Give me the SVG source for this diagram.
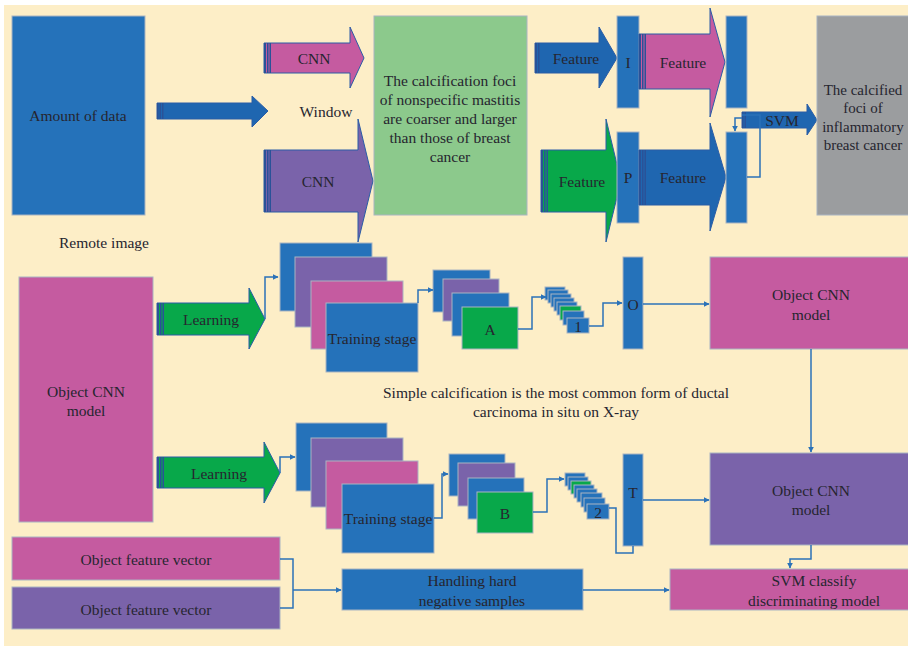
<svg xmlns="http://www.w3.org/2000/svg" width="908" height="648" viewBox="0 0 908 648">
<defs>
<style>
text{font-family:"Liberation Serif","DejaVu Serif",serif;fill:#26252f;font-size:15.5px;text-anchor:middle;dominant-baseline:central}
.box{stroke:#aab4c2;stroke-width:1}
.blue{fill:#2572ba}
.pink{fill:#c55ba0}
.purple{fill:#7a63aa}
.green{fill:#08a84a}
.lgreen{fill:#8cc98c}
.gray{fill:#9b9d9f}
.arr{stroke:#2b5da6;stroke-width:1}
.ablue{fill:#1f66b0}
.stripe{fill:#2a5298}
.con{fill:none;stroke:#2b72b8;stroke-width:1.5}
</style>
<marker id="ah" viewBox="0 0 10 10" refX="9" refY="5" markerWidth="6" markerHeight="6" orient="auto" markerUnits="userSpaceOnUse">
<path d="M0,0 L10,5 L0,10 Z" fill="#2b72b8"/>
</marker>
</defs>
<rect x="0" y="0" width="908" height="648" fill="#ffffff"/>
<rect x="4" y="5" width="904" height="641" fill="#fdeec7"/>

<g id="amount-of-data">
<rect class="box blue" x="12" y="16" width="133" height="199"/>
<text x="78" y="115">Amount of data</text>
</g>
<g id="remote-image"><text x="104" y="242">Remote image</text></g>

<g id="arrow-main">
<path class="arr ablue" d="M157,103 H252 V96 L268,111 L252,127 V119 H157 Z"/>
<rect class="stripe" x="157" y="103" width="1.5" height="16"/><rect class="stripe" x="159.5" y="103" width="1.5" height="16"/><rect class="stripe" x="162" y="103" width="1.5" height="16"/>
</g>

<g id="cnn-top">
<path class="arr pink" d="M264,43 H350 V27 L364,58 L350,88 V73 H264 Z"/>
<rect class="stripe" x="264" y="43" width="2" height="30"/><rect class="stripe" x="267" y="43" width="1.5" height="30"/><rect class="stripe" x="269.5" y="43" width="1.5" height="30"/>
<text x="314" y="58">CNN</text>
</g>
<g id="window"><text x="326" y="111">Window</text></g>
<g id="cnn-bottom">
<path class="arr purple" d="M264,150 H358 V119 L373,181 L358,242 V212 H264 Z"/>
<rect class="stripe" x="264" y="150" width="2" height="62"/><rect class="stripe" x="267" y="150" width="1.5" height="62"/><rect class="stripe" x="269.5" y="150" width="1.5" height="62"/>
<text x="318" y="181">CNN</text>
</g>

<g id="calc-foci">
<rect class="box lgreen" x="374" y="16" width="153" height="199"/>
<text x="450" y="80">The calcification foci</text>
<text x="450" y="99">of nonspecific mastitis</text>
<text x="450" y="118">are coarser and larger</text>
<text x="450" y="137">than those of breast</text>
<text x="450" y="156">cancer</text>
</g>

<g id="feature-1">
<path class="arr ablue" d="M535,43 H599 V27 L617,58 L599,88 V73 H535 Z"/>
<rect class="stripe" x="535" y="43" width="2" height="30"/><rect class="stripe" x="538" y="43" width="1.5" height="30"/>
<text x="576" y="58">Feature</text>
</g>
<g id="feature-2">
<path class="arr green" d="M541,150 H606 V119 L621,181 L606,242 V212 H541 Z"/>
<rect class="stripe" x="541" y="150" width="2" height="62"/><rect class="stripe" x="544" y="150" width="1.5" height="62"/><rect class="stripe" x="546.5" y="150" width="1.5" height="62"/>
<text x="582" y="181">Feature</text>
</g>

<g id="bar-i"><rect class="box blue" x="617" y="16" width="22" height="92"/><text x="628" y="62">I</text></g>
<g id="bar-p"><rect class="box blue" x="617" y="132" width="22" height="91"/><text x="628" y="177">P</text></g>

<g id="feature-3">
<path class="arr pink" d="M639,34 H710 V8 L725,62 L710,117 V89 H639 Z"/>
<rect class="stripe" x="639" y="34" width="2" height="55"/><rect class="stripe" x="642" y="34" width="1.5" height="55"/><rect class="stripe" x="644.5" y="34" width="1.5" height="55"/>
<text x="683" y="62">Feature</text>
</g>
<g id="feature-4">
<path class="arr ablue" d="M639,150 H710 V123 L726,177 L710,231 V205 H639 Z"/>
<rect class="stripe" x="639" y="150" width="2" height="55"/><rect class="stripe" x="642" y="150" width="1.5" height="55"/><rect class="stripe" x="644.5" y="150" width="1.5" height="55"/>
<text x="683" y="177">Feature</text>
</g>

<g id="bar-r1"><rect class="box blue" x="726" y="16" width="21" height="92"/></g>
<g id="bar-r2"><rect class="box blue" x="726" y="132" width="21" height="91"/></g>

<g id="svm">
<path class="arr ablue" d="M742,112 H807 V104 L817,120 L807,135 V128 H742 Z"/>
<rect class="stripe" x="742" y="112" width="1.5" height="16"/><rect class="stripe" x="744.5" y="112" width="1.5" height="16"/>
<text x="782" y="120">SVM</text>
</g>

<g id="calcified-foci">
<rect class="box gray" x="817" y="16" width="100" height="199"/>
<text x="863" y="90" style="font-size:15px">The calcified</text>
<text x="863" y="108" style="font-size:15px">foci of</text>
<text x="863" y="127" style="font-size:15px">inflammatory</text>
<text x="863" y="145" style="font-size:15px">breast cancer</text>
</g>

<g id="object-cnn-left">
<rect class="box pink" x="19" y="277" width="134" height="245"/>
<text x="86" y="391">Object CNN</text>
<text x="86" y="410">model</text>
</g>

<g id="learning-1">
<path class="arr green" d="M157,303 H249 V288 L265,319 L249,349 V335 H157 Z"/>
<rect class="stripe" x="157" y="303" width="2" height="32"/><rect class="stripe" x="160" y="303" width="1.5" height="32"/><rect class="stripe" x="162.5" y="303" width="1.5" height="32"/>
<text x="211" y="319">Learning</text>
</g>
<g id="learning-2">
<path class="arr green" d="M157,457 H264 V442 L280,473 L264,503 V488 H157 Z"/>
<rect class="stripe" x="157" y="457" width="2" height="31"/><rect class="stripe" x="160" y="457" width="1.5" height="31"/><rect class="stripe" x="162.5" y="457" width="1.5" height="31"/>
<text x="219" y="473">Learning</text>
</g>

<g id="training-1">
<rect class="box blue" x="280" y="243" width="92" height="68"/>
<rect class="box purple" x="295" y="257" width="92" height="70"/>
<rect class="box pink" x="311" y="281" width="92" height="68"/>
<rect class="box blue" x="326" y="303" width="92" height="69"/>
<text x="372" y="338">Training stage</text>
</g>
<g id="training-2">
<rect class="box blue" x="296" y="423" width="91" height="68"/>
<rect class="box purple" x="311" y="438" width="92" height="69"/>
<rect class="box pink" x="326" y="461" width="92" height="68"/>
<rect class="box blue" x="342" y="484" width="92" height="69"/>
<text x="388" y="518">Training stage</text>
</g>

<g id="stack-a">
<rect class="box blue" x="433" y="270" width="57" height="42"/>
<rect class="box purple" x="443" y="279" width="56" height="42"/>
<rect class="box blue" x="452" y="293" width="57" height="43"/>
<rect class="box green" x="462" y="307" width="56" height="42"/>
<text x="490" y="329">A</text>
</g>
<g id="stack-b">
<rect class="box blue" x="449" y="454" width="56" height="42"/>
<rect class="box purple" x="458" y="463" width="57" height="43"/>
<rect class="box blue" x="468" y="478" width="56" height="41"/>
<rect class="box green" x="477" y="492" width="56" height="41"/>
<text x="505" y="513">B</text>
</g>

<g id="stack-1">
<rect class="box blue" x="545" y="287" width="20" height="13"/>
<rect class="box blue" x="548" y="290" width="20" height="13"/>
<rect class="box blue" x="551" y="294" width="20" height="13"/>
<rect class="box blue" x="554" y="298" width="20" height="13"/>
<rect class="box blue" x="557" y="302" width="20" height="13"/>
<rect class="box green" x="560" y="306" width="21" height="14"/>
<rect class="box blue" x="563" y="311" width="21" height="14"/>
<rect class="box blue" x="567" y="318" width="22" height="15"/>
<text x="578" y="326">1</text>
</g>
<g id="stack-2">
<rect class="box blue" x="565" y="473" width="20" height="13"/>
<rect class="box blue" x="568" y="477" width="20" height="13"/>
<rect class="box green" x="571" y="481" width="20" height="13"/>
<rect class="box blue" x="574" y="485" width="20" height="13"/>
<rect class="box blue" x="577" y="489" width="20" height="13"/>
<rect class="box blue" x="581" y="493" width="21" height="14"/>
<rect class="box blue" x="584" y="498" width="21" height="14"/>
<rect class="box blue" x="587" y="504" width="22" height="15"/>
<text x="598" y="512">2</text>
</g>

<g id="bar-o"><rect class="box blue" x="623" y="257" width="20" height="92"/><text x="633" y="304">O</text></g>
<g id="bar-t"><rect class="box blue" x="623" y="454" width="20" height="92"/><text x="633" y="492">T</text></g>

<g id="object-cnn-right-1">
<rect class="box pink" x="710" y="257" width="210" height="92"/>
<text x="811" y="294">Object CNN</text>
<text x="811" y="314">model</text>
</g>
<g id="object-cnn-right-2">
<rect class="box purple" x="710" y="453" width="210" height="92"/>
<text x="811" y="490">Object CNN</text>
<text x="811" y="509">model</text>
</g>

<g id="note">
<text x="556" y="392">Simple calcification is the most common form of ductal</text>
<text x="556" y="411">carcinoma in situ on X-ray</text>
</g>

<g id="ofv-1"><rect class="box pink" x="12" y="537" width="268" height="43"/><text x="146" y="559">Object feature vector</text></g>
<g id="ofv-2"><rect class="box purple" x="12" y="587" width="268" height="42"/><text x="146" y="609">Object feature vector</text></g>
<g id="hard-neg">
<rect class="box blue" x="342" y="569" width="241" height="41"/>
<text x="472" y="580">Handling hard</text>
<text x="472" y="600">negative samples</text>
</g>
<g id="svm-classify">
<rect class="box pink" x="670" y="569" width="250" height="41"/>
<text x="814" y="580">SVM classify</text>
<text x="814" y="600">discriminating model</text>
</g>

<g id="connectors">
<polyline class="con" points="747,177 760,177 760,115 742,115"/>
<polyline class="con" points="742,118 735,118 735,131" marker-end="url(#ah)"/>
<polyline class="con" points="265,319 265,277 278,277" marker-end="url(#ah)"/>
<polyline class="con" points="418,303 418,290 433,290" marker-end="url(#ah)"/>
<polyline class="con" points="518,329 532,329 532,297 546,297" marker-end="url(#ah)"/>
<polyline class="con" points="589,326 603,326 603,303 622,303" marker-end="url(#ah)"/>
<polyline class="con" points="643,304 709,304" marker-end="url(#ah)"/>
<polyline class="con" points="811,349 811,452" marker-end="url(#ah)"/>
<polyline class="con" points="280,473 280,457 295,457" marker-end="url(#ah)"/>
<polyline class="con" points="434,518 442,518 442,474 448,474" marker-end="url(#ah)"/>
<polyline class="con" points="533,512 547,512 547,479 564,479" marker-end="url(#ah)"/>
<polyline class="con" points="609,508 616,508 616,553 633,553 633,546"/>
<polyline class="con" points="643,500 709,500" marker-end="url(#ah)"/>
<polyline class="con" points="280,559 293,559 293,608 280,608"/>
<polyline class="con" points="293,590 341,590" marker-end="url(#ah)"/>
<polyline class="con" points="583,590 669,590" marker-end="url(#ah)"/>
<polyline class="con" points="811,545 811,559 790,559 790,568" marker-end="url(#ah)"/>
</g>
</svg>
